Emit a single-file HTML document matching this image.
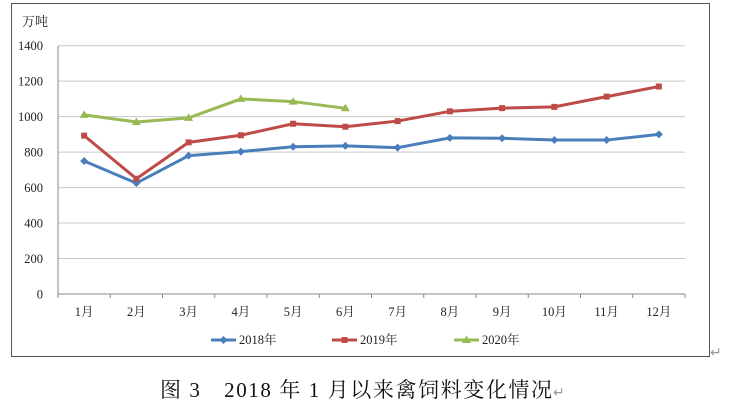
<!DOCTYPE html>
<html><head><meta charset="utf-8"><style>
body{margin:0;background:#fff;width:731px;height:404px;overflow:hidden}
text{font-family:"Liberation Serif","Noto Serif CJK SC",serif;font-size:12.5px;fill:#222}
</style></head><body>
<svg id="s" width="731" height="404" xmlns="http://www.w3.org/2000/svg">
<rect x="11.5" y="3.5" width="698" height="353" fill="none" stroke="#555" stroke-width="1"/>
<text x="22" y="26" style="font-size:13px">万吨</text>
<g id="g"></g>
<text x="710" y="357" style="font-size:14px;fill:#999">↵</text>
<text x="160" y="397" textLength="392" lengthAdjust="spacing" style="font-size:21px;fill:#111">图 3　2018 年 1 月以来禽饲料变化情况</text>
<text x="553" y="397" style="font-size:14px;fill:#999">↵</text>
</svg>
<script>
const g=document.getElementById('g');let h='';
const L=58,R=685,T=45.7,B=294,k=(B-T)/1400;
for(let v=0;v<=1400;v+=200){const y=B-v*k;
 if(v>0)h+=`<line x1="${L}" x2="${R}" y1="${y}" y2="${y}" stroke="#c8c8c8" stroke-width="1"/>`;
 h+=`<text x="43" y="${y+4.5}" text-anchor="end">${v}</text>`;}
h+=`<line x1="${L}" x2="${L}" y1="${T}" y2="${B}" stroke="#888"/><line x1="${L}" x2="${R}" y1="${B}" y2="${B}" stroke="#888"/>`;
const w=(R-L)/12;
for(let i=0;i<=12;i++){const x=L+w*i;h+=`<line x1="${x}" x2="${x}" y1="${B}" y2="${B+4}" stroke="#888"/>`;}
for(let i=0;i<12;i++){h+=`<text x="${L+w*(i+.5)}" y="${B+22}" text-anchor="middle">${i+1}月</text>`;}
const S=[[[750,625,780,803,830,835,825,880,878,868,868,900],'#4a7ebb','d'],
[[893,650,855,895,960,943,975,1030,1048,1055,1113,1170],'#be4b48','s'],
[[1010,970,993,1100,1085,1047],'#98b954','t']];
function mk(x,y,t,c){if(t=='d')return `<path d="M${x} ${y-4}L${x+4} ${y}L${x} ${y+4}L${x-4} ${y}Z" fill="${c}"/>`;
 if(t=='s')return `<rect x="${x-3}" y="${y-3}" width="6" height="6" fill="${c}"/>`;
 return `<path d="M${x} ${y-4.5}L${x+4.5} ${y+3}L${x-4.5} ${y+3}Z" fill="${c}"/>`;}
S.forEach(([d,c,t])=>{const p=d.map((v,i)=>[L+w*(i+.5),B-v*k]);
 h+=`<polyline points="${p.map(q=>q.join(',')).join(' ')}" fill="none" stroke="${c}" stroke-width="3"/>`;
 p.forEach(q=>h+=mk(q[0],q[1],t,c));});
[[211,'2018年',0],[332,'2019年',1],[454,'2020年',2]].forEach(([x,n,i])=>{const c=S[i][1];
 h+=`<line x1="${x}" x2="${x+25}" y1="340" y2="340" stroke="${c}" stroke-width="3"/>`+mk(x+12.5,340,S[i][2],c)+`<text x="${x+28}" y="344">${n}</text>`;});
g.innerHTML=h;
</script>
</body></html>
